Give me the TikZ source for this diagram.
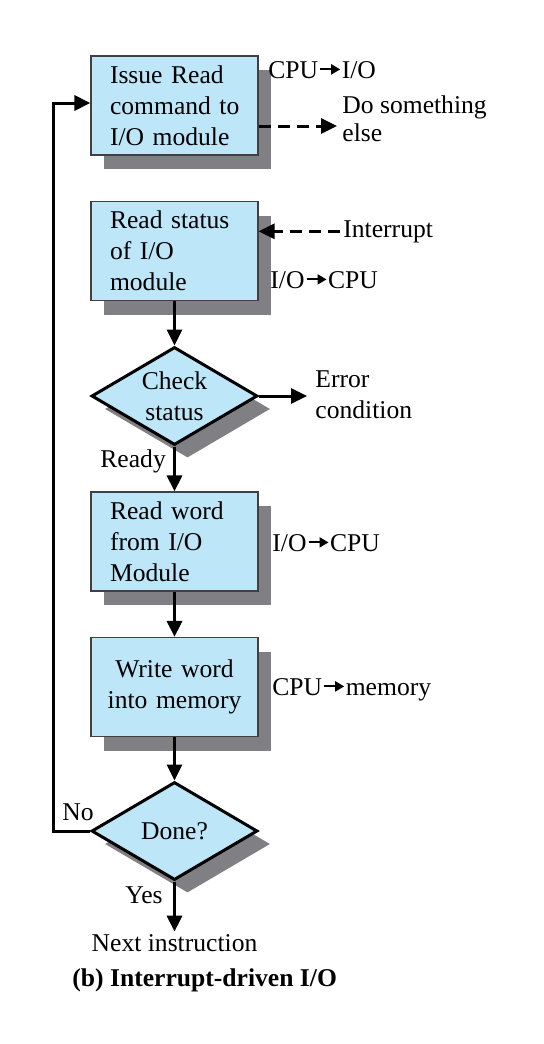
\documentclass[tikz,border=0pt]{standalone}
\usepackage{fontspec}
\setmainfont{Liberation Serif}
\usetikzlibrary{shapes.geometric,arrows.meta,shadows}
\definecolor{boxblue}{RGB}{189,230,248}
\definecolor{shgray}{RGB}{128,128,132}
\newcommand\fs{\fontsize{12.8pt}{15.5pt}\selectfont}
\newcommand\tarr{\kern0.5pt\tikz[baseline={(0pt,-4.3pt)}]\draw[line width=1pt,-{Triangle[length=4.5pt,width=5pt]}] (0pt,0pt)--(10pt,0pt);\kern0.3pt}
\begin{document}
\begin{tikzpicture}[x=0.5pt,y=-0.5pt,
  every node/.style={font=\fs, inner sep=0pt},
  plainbox/.style={rectangle, draw=black!75, line width=0.6pt, fill=boxblue,
    minimum width=83.5pt, minimum height=49.5pt, text width=74.5pt, align=center,
    drop shadow={shadow xshift=6.5pt,shadow yshift=-7pt,fill=shgray,opacity=1}},
  stepbox/.style={plainbox, align=left, execute at begin node={\leftskip=5pt}},
  decide/.style={diamond, draw=black, line width=1.5pt, fill=boxblue, aspect=1.68,
    minimum width=83pt, minimum height=49pt, align=center,
    drop shadow={shadow xshift=6.5pt,shadow yshift=-6.5pt,fill=shgray,opacity=1}},
  lbl/.style={anchor=base west, align=left},
  flow/.style={line width=1.5pt, -{Triangle[length=8pt,width=7.5pt]}},
  dflow/.style={flow, dash pattern=on 6pt off 3.5pt}]
\useasboundingbox (0,0) rectangle (544,1044);

\node[stepbox] (b1) at (174.5,105.5) {Issue Read\\command to\\I/O module};
\node[stepbox] (b2) at (174.5,251) {Read status\\of I/O\\module};
\node[decide] (d1) at (174.5,396) {Check\\status};
\node[stepbox] (b3) at (174.5,541.5) {Read word\\from I/O\\Module};
\node[plainbox] (b4) at (174.5,687) {Write word\\into memory};
\node[decide] (d2) at (174.5,831) {Done?};

\node[lbl] (t1) at (268,78) {CPU\tarr I/O};
\node[anchor=west, align=left, font=\fontsize{12.8pt}{14pt}\selectfont] (dse) at (342,119) {Do something\\else};
\node[lbl] (intr) at (343,237) {Interrupt};
\node[lbl] (t2) at (270,288) {I/O\tarr CPU};
\node[anchor=west, align=left] (err) at (315,395) {Error\\condition};
\node[lbl] (rdy) at (100,467) {Ready};
\node[lbl] (t3) at (272,551) {I/O\tarr CPU};
\node[lbl] (t4) at (272,695) {CPU\tarr memory};
\node[lbl] (no) at (62,820) {No};
\node[lbl] (yes) at (125,903) {Yes};
\node[anchor=base, inner sep=1pt] (nxt) at (174.5,951) {Next instruction};
\node[lbl, font=\fs\bfseries] (cap) at (72,986) {(b) Interrupt-driven I/O};

\coordinate (dtip) at (337,126);
\coordinate (etip) at (307,396);
\coordinate (lp) at (53,103);

\draw[dflow] (dtip -| b1.east) -- (dtip);
\draw[dflow] ([xshift=-1.5pt]intr.west) -- (intr.west -| b2.east);
\draw[flow] (b2.south) -- (d1.north);
\draw[flow] (d1.east) -- (etip);
\draw[flow] (d1.south) -- (b3.north);
\draw[flow] (b3.south) -- (b4.north);
\draw[flow] (b4.south) -- (d2.north);
\draw[flow] (d2.south) -- (nxt.north);
\draw[flow] (d2.west) -| (lp) -- (lp -| b1.west);
\end{tikzpicture}
\end{document}
